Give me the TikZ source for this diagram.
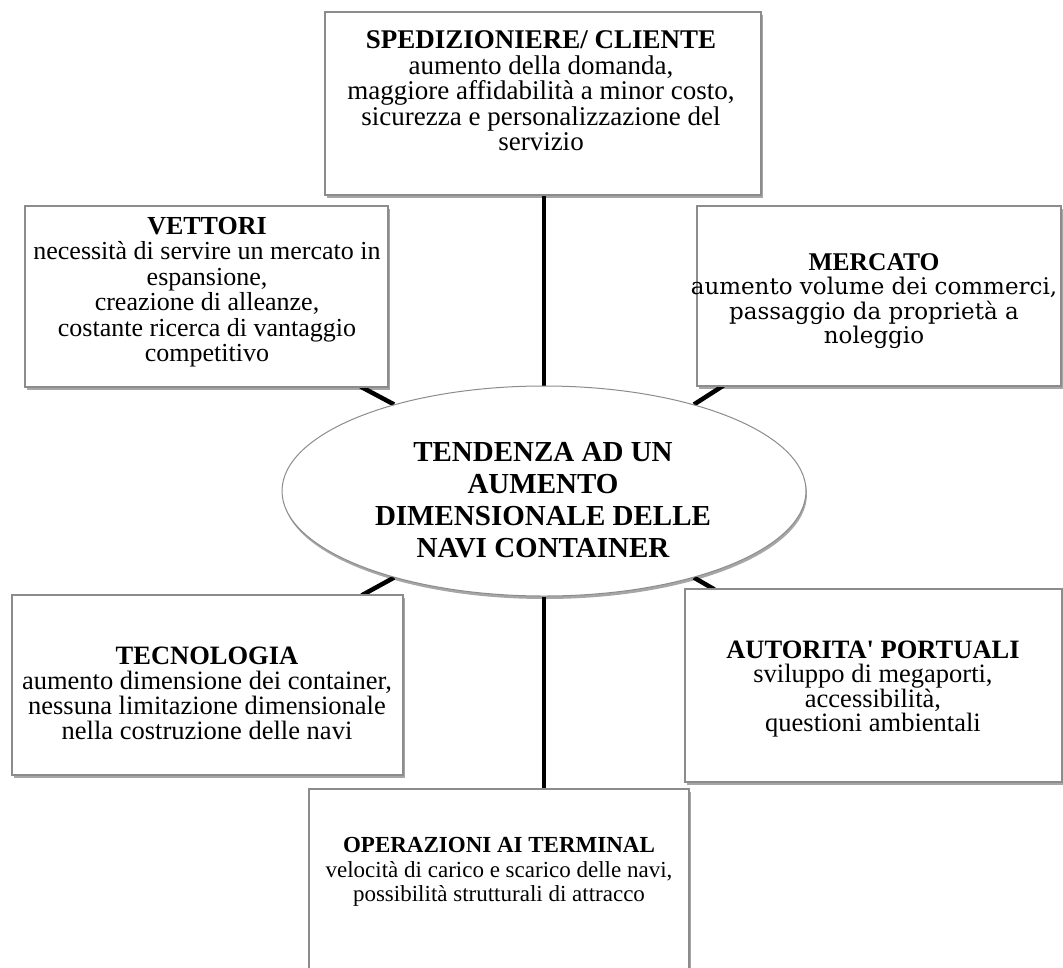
\documentclass[tikz,border=0pt]{standalone}
\usepackage{fontspec}
\setmainfont{Liberation Serif}
\newfontfamily\cambriafont{DejaVu Serif}
\usetikzlibrary{shapes.geometric,shadows,backgrounds,calc}
\definecolor{boxgray}{RGB}{140,140,140}
\begin{document}
\begin{tikzpicture}[x=1pt,y=-1pt,
  box/.style={draw=boxgray, line width=1.2pt, fill=white, rectangle, inner sep=0pt,
    drop shadow={shadow xshift=1.5pt, shadow yshift=-2.5pt, opacity=0.35, fill=black}},
  oval/.style={draw=boxgray, line width=1pt, fill=white, ellipse, inner sep=0pt,
    drop shadow={shadow xshift=1pt, shadow yshift=-3pt, opacity=0.35, fill=black}},
  btxt/.style={align=center, inner sep=0pt, font=\fontsize{27}{25.5}\selectfont},
  etxt/.style={align=center, inner sep=0pt, font=\fontsize{29}{32}\selectfont\bfseries},
  conn/.style={line width=4.5pt, black}]
\useasboundingbox (0,0) rectangle (1063,967);
\begin{scope}
\clip (0,0) rectangle (1063,967);
\node[box, minimum width=436pt, minimum height=183pt] (top) at (543,103.5) {};
\node[box, minimum width=363pt, minimum height=181pt] (vet) at (206.5,296.5) {};
\node[box, minimum width=364pt, minimum height=180pt] (mer) at (879,296) {};
\node[box, minimum width=391pt, minimum height=180pt] (tec) at (207.5,685) {};
\node[box, minimum width=377pt, minimum height=193pt] (aut) at (873.5,685.5) {};
\node[box, minimum width=380pt, minimum height=211pt] (op) at (499,894.5) {};
\node[oval, minimum width=524pt, minimum height=210pt] (ell) at (544,491) {};

\node[btxt] (toptxt) at (541,91) {\textbf{SPEDIZIONIERE/ CLIENTE}\\aumento della domanda,\\maggiore affidabilità a minor costo,\\sicurezza e personalizzazione del\\servizio};
\node[btxt, font=\fontsize{26}{25.5}\selectfont] (vettxt) at (207,292) {\textbf{VETTORI}\\necessità di servire un mercato in\\espansione,\\creazione di alleanze,\\costante ricerca di vantaggio\\competitivo};
\node[btxt, font=\fontsize{25.5}{24.5}\selectfont] (mertxt) at (874,301) {\textbf{MERCATO}\\{\cambriafont\fontsize{23}{24.5}\selectfont aumento volume dei commerci,}\\{\cambriafont\fontsize{23}{24.5}\selectfont passaggio da proprietà a}\\{\cambriafont\fontsize{23}{24.5}\selectfont noleggio}};
\node[etxt] (elltxt) at (543,500) {TENDENZA AD UN\\AUMENTO\\DIMENSIONALE DELLE\\NAVI CONTAINER};
\node[btxt, font=\fontsize{26.5}{25}\selectfont] (tectxt) at (207,693) {\textbf{TECNOLOGIA}\\aumento dimensione dei container,\\nessuna limitazione dimensionale\\nella costruzione delle navi};
\node[btxt, font=\fontsize{26.5}{24.5}\selectfont] (auttxt) at (873,689) {\textbf{AUTORITA\textquotesingle{} PORTUALI}\\sviluppo di megaporti,\\accessibilità,\\questioni ambientali};
\node[btxt, font=\fontsize{23}{24.5}\selectfont] (optxt) at (499,872) {\textbf{OPERAZIONI AI TERMINAL}\\velocità di carico e scarico delle navi,\\possibilità strutturali di attracco};
\end{scope}

\begin{pgfonlayer}{background}
\draw[conn] (ell.north) -- (ell.north |- top.south);
\draw[conn] (ell.south) -- (ell.south |- op.north);
\draw[conn] (ell.150) -- ($(vet.south east)+(-28,-1)$);
\draw[conn] (ell.30) -- ($(mer.south west)+(27,-1)$);
\draw[conn] (ell.210) -- ($(tec.north east)+(-42,1)$);
\draw[conn] (ell.330) -- ($(aut.north west)+(30,1)$);
\end{pgfonlayer}
\end{tikzpicture}
\end{document}
